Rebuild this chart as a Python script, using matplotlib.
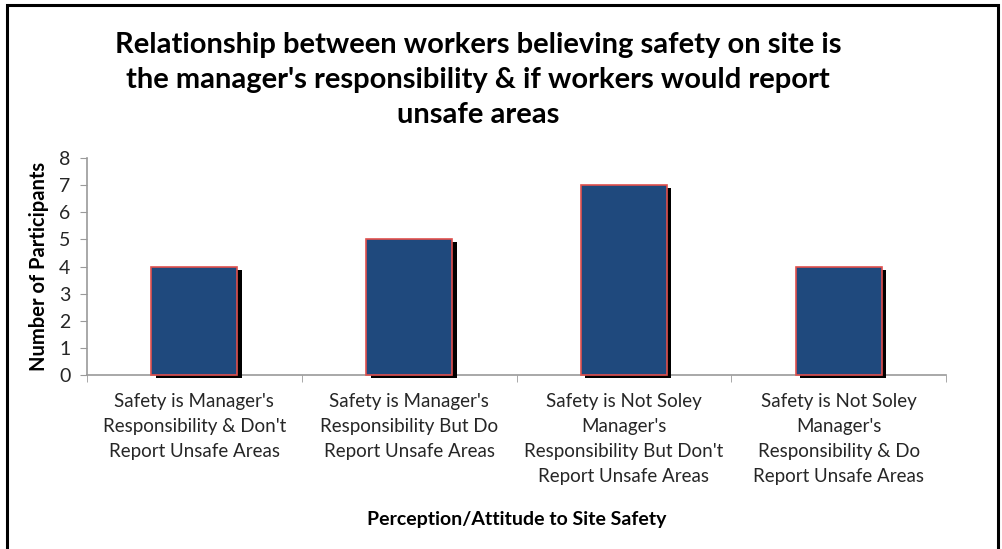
import matplotlib.pyplot as plt
import matplotlib.patheffects as pe
from matplotlib.patches import Rectangle
import numpy as np

plt.rcParams['font.family'] = ['Lato', 'DejaVu Sans']

categories = [
    "Safety is Manager's\nResponsibility & Don't\nReport Unsafe Areas",
    "Safety is Manager's\nResponsibility But Do\nReport Unsafe Areas",
    "Safety is Not Soley\nManager's\nResponsibility But Don't\nReport Unsafe Areas",
    "Safety is Not Soley\nManager's\nResponsibility & Do\nReport Unsafe Areas",
]
participants = [4, 5, 7, 4]
y_ticks = [0, 1, 2, 3, 4, 5, 6, 7, 8]

title = ("Relationship between workers believing safety on site is\n"
         "the manager's responsibility & if workers would report\n"
         "unsafe areas")

fig = plt.figure(figsize=(10.02, 5.49), dpi=100)
ax = fig.add_axes([87 / 1002, 1 - 375 / 549, (946 - 87) / 1002, (375 - 158) / 549])

x = np.arange(len(categories))
bars = ax.bar(x, participants, width=0.40, color='#1F497D',
              edgecolor='#E0504D', linewidth=1.2, zorder=3)
for b in bars:
    b.set_clip_on(False)
    b.set_path_effects([
        pe.SimplePatchShadow(offset=(3.2, -2.2), shadow_rgbFace='black', alpha=1.0),
        pe.Normal(),
    ])

ax.set_xlim(-0.5, len(categories) - 0.5)
ax.set_ylim(0, 8)
ax.set_yticks(y_ticks)
ax.set_yticklabels([str(v) for v in y_ticks], fontsize=14, color='#262626')

ax.set_xticks(x)
ax.set_xticklabels(categories, fontsize=13.5, color='#262626', linespacing=1.58)
ax.tick_params(axis='x', which='major', length=0, pad=13)
ax.set_xticks(np.arange(-0.5, len(categories), 1.0), minor=True)
ax.tick_params(axis='x', which='minor', length=5, color='#9A9A9A', direction='out')
ax.tick_params(axis='y', length=5, color='#9A9A9A', direction='out', pad=7)

for side in ['top', 'right']:
    ax.spines[side].set_visible(False)
for side in ['left', 'bottom']:
    ax.spines[side].set_color('#9A9A9A')
    ax.spines[side].set_linewidth(1.2)

ax.set_ylabel('Number of Participants', fontsize=14.5, fontweight='bold', labelpad=7)
fig.text((87 + 946) / 2 / 1002, 1 - 519 / 549, 'Perception/Attitude to Site Safety',
         ha='center', va='center', fontsize=14, fontweight='bold')

fig.text(0.477, 1 - 80 / 549, title, ha='center', va='center', fontsize=21,
         fontweight='bold', linespacing=1.42)

# outer frame around the chart
fig.patches.append(Rectangle((7 / 1002, -0.01), (998 - 7) / 1002, 1 - 5 / 549 + 0.01,
                             transform=fig.transFigure, fill=False,
                             edgecolor='black', linewidth=2.2))

fig.savefig('out.png', dpi=100)
